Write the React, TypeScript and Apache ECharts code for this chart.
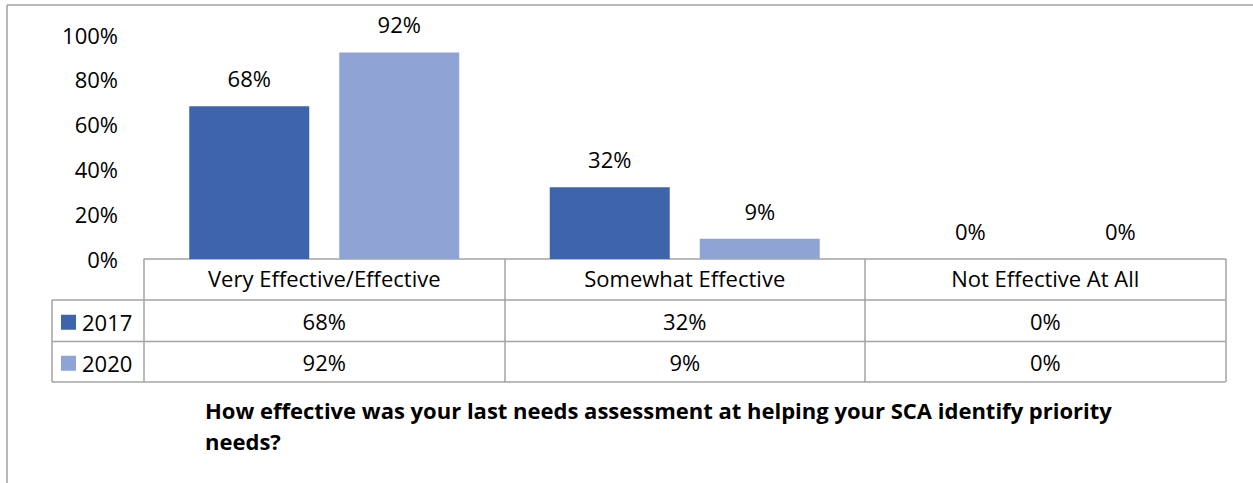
import React, { useEffect, useRef } from "react";
import * as echarts from "echarts";

const categories = ["Very Effective/Effective", "Somewhat Effective", "Not Effective At All"];
const seriesNames = ["2017", "2020"];
const values2017 = [68, 32, 0];
const values2020 = [92, 9, 0];
const seriesValues = [values2017, values2020];
const seriesColors = ["#3E64AC", "#8FA4D4"];
const titleLines = [
  "How effective was your last needs assessment at helping your SCA identify priority",
  "needs?",
];

const FONT = "'Open Sans', 'Noto Sans', sans-serif";
const FS = 22;
const LINE = "#a3a3a3";

export default function App() {
  const ref = useRef<HTMLDivElement>(null);
  useEffect(() => {
    if (!ref.current) return;
    const chart = echarts.init(ref.current, null, { renderer: "svg" });
    const gridLeft = 144;
    const gridRight = 1253 - 1225.5;
    const gridTop = 34.5;
    const gridBottom = 483 - 259;
    const rowTops = [300, 341.5, 382];
    const option: any = {
      animation: false,
      textStyle: { fontFamily: FONT, color: "#000" },
      grid: { left: gridLeft, right: gridRight, top: gridTop, bottom: gridBottom, containLabel: false },
      legend: seriesNames.map((name, i) => ({
        orient: "vertical",
        left: 61,
        top: (rowTops[i] + rowTops[i + 1]) / 2 - 9.5,
        itemWidth: 15,
        itemHeight: 15,
        padding: 0,
        icon: "rect",
        data: [name],
        textStyle: { fontSize: FS, fontFamily: FONT, color: "#000", lineHeight: 15, padding: [0, 0, 0, 1] },
        selectedMode: false,
      })),
      xAxis: {
        type: "category",
        data: categories,
        boundaryGap: true,
        axisLine: { show: true, lineStyle: { color: LINE, width: 1.5 } },
        axisTick: { show: true, length: 123, lineStyle: { color: LINE, width: 1.5 } },
        axisLabel: { fontSize: FS, margin: 8, color: "#000", fontFamily: FONT },
      },
      yAxis: {
        type: "value",
        min: 0,
        max: 100,
        interval: 20,
        splitLine: { show: false },
        axisLine: { show: false },
        axisTick: { show: false },
        axisLabel: { formatter: "{value}%", fontSize: FS, margin: 26, color: "#000", fontFamily: FONT },
      },
      series: seriesNames.map((name, i) => ({
        name,
        type: "bar",
        data: seriesValues[i],
        barWidth: 120,
        barGap: "25%",
        itemStyle: { color: seriesColors[i] },
        label: {
          show: true,
          position: "top",
          distance: 17,
          formatter: "{c}%",
          fontSize: FS,
          color: "#000",
          fontFamily: FONT,
        },
      })),
    };
    chart.setOption(option);

    const tableLeft = 52;
    const tableRight = 1225.5;
    const graphic: any[] = [];
    graphic.push({ type: "line", shape: { x1: 7, y1: 5, x2: 1253, y2: 5 }, style: { stroke: "#a0a0a0", lineWidth: 1.5 } });
    graphic.push({ type: "line", shape: { x1: 7, y1: 5, x2: 7, y2: 483 }, style: { stroke: "#a0a0a0", lineWidth: 1.5 } });
    rowTops.forEach((y) => {
      graphic.push({ type: "line", shape: { x1: tableLeft, y1: y, x2: tableRight, y2: y }, style: { stroke: LINE, lineWidth: 1.5 } });
    });
    graphic.push({ type: "line", shape: { x1: tableLeft, y1: rowTops[0], x2: tableLeft, y2: rowTops[2] }, style: { stroke: LINE, lineWidth: 1.5 } });
    seriesValues.forEach((vals, r) => {
      const yc = (rowTops[r] + rowTops[r + 1]) / 2;
      vals.forEach((v, c) => {
        const x = chart.convertToPixel({ xAxisIndex: 0 }, c) as number;
        graphic.push({
          type: "text",
          x,
          y: yc,
          style: { text: v + "%", fontSize: FS, fontFamily: FONT, fill: "#000", align: "center", verticalAlign: "middle" },
        });
      });
    });
    titleLines.forEach((t, i) => {
      graphic.push({
        type: "text",
        x: 205,
        y: 410 + i * 31,
        style: { text: t, fontSize: 22, fontWeight: "bold", fontFamily: FONT, fill: "#000", align: "left", verticalAlign: "middle" },
      });
    });
    chart.setOption({ graphic });

    return () => chart.dispose();
  }, []);
  return (
    <div
      ref={ref}
      style={{ position: "fixed", left: 0, top: 0, width: 1253, height: 483, background: "#fff" }}
    />
  );
}
